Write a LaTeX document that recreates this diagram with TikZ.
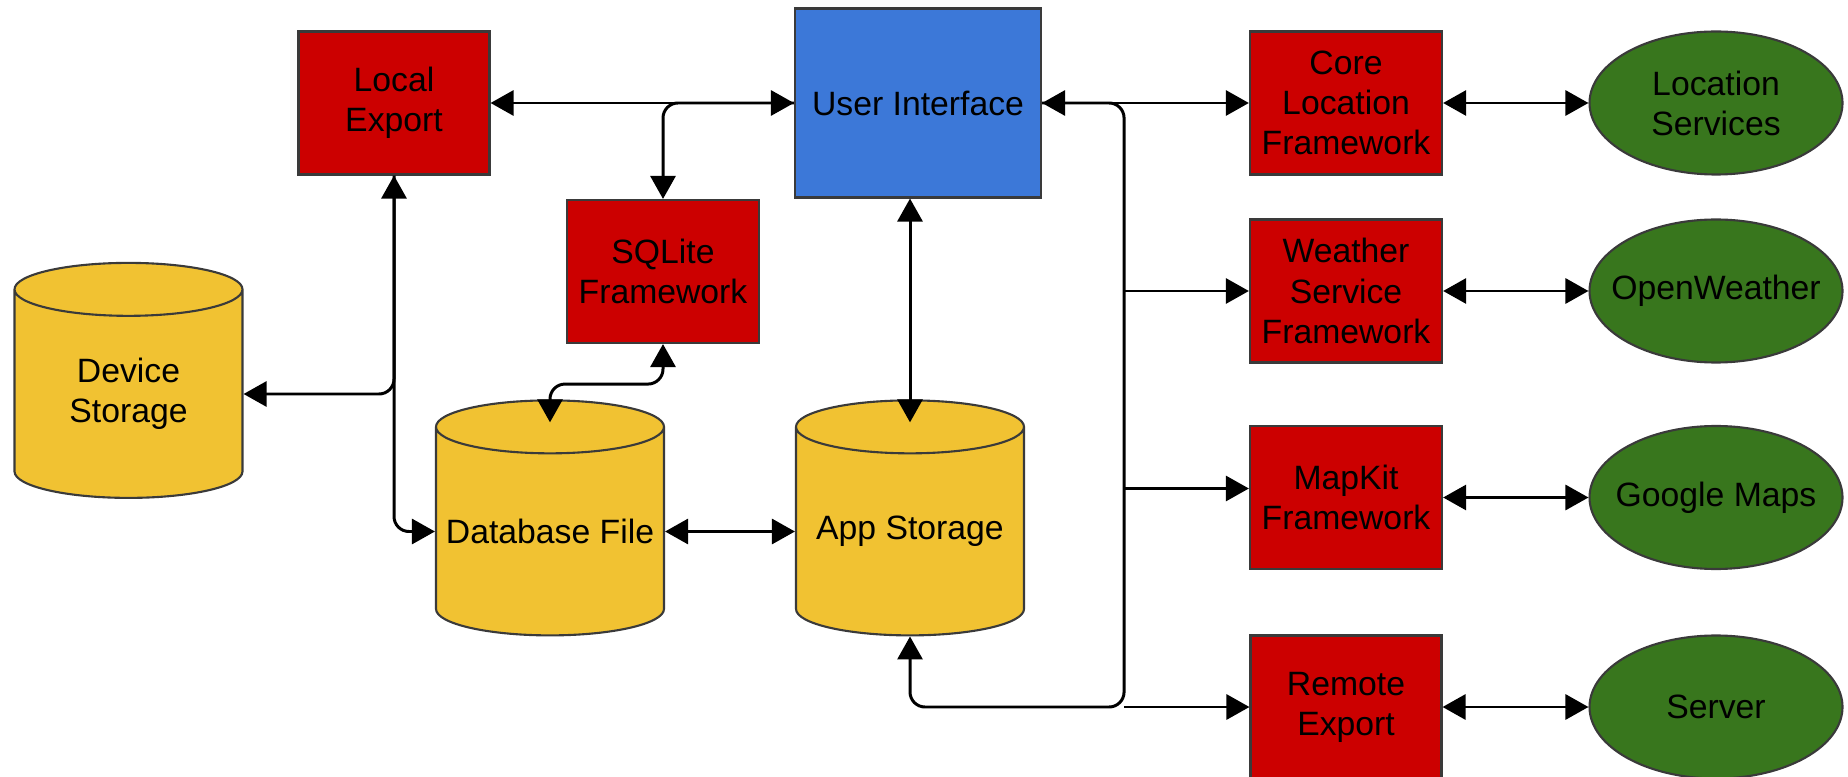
\documentclass[tikz,border=0pt]{standalone}
\usepackage{fontspec}
\setmainfont{Liberation Sans}
\usetikzlibrary{shapes.geometric,arrows.meta,calc,positioning}
\definecolor{fwred}{HTML}{CC0000}
\definecolor{uiblue}{HTML}{3C78D8}
\definecolor{dbyellow}{HTML}{F1C232}
\definecolor{srvgreen}{HTML}{38761D}
\definecolor{edgegray}{HTML}{3A3A3A}
\tikzstyle{framebox} = [rectangle,minimum width=1.91cm,minimum height=1.43cm,align=center,fill=fwred,draw=edgegray,semithick]
\tikzstyle{uibox} = [rectangle,minimum width=2.46cm,minimum height=1.89cm,align=center,fill=uiblue,draw=edgegray,semithick]
\tikzstyle{dbcyl} = [cylinder,shape border rotate=90,aspect=2.26,minimum width=2.28cm,minimum height=2.35cm,fill=dbyellow,draw=edgegray,semithick]
\tikzstyle{extsrv} = [ellipse,minimum width=2.53cm,minimum height=1.43cm,inner sep=0pt,fill=srvgreen,draw=edgegray,semithick]
\tikzstyle{dblabel} = [align=center,yshift=0.06cm]
\tikzstyle{srvlabel} = [align=center]

\begin{document}
\begin{tikzpicture}[->,>={Triangle[length=0.23cm,width=0.25cm]},line width=0.85pt,node distance=3.7cm,font=\fontsize{9.6}{11.4}\selectfont]

\useasboundingbox (0,0) rectangle (18.48,-7.77);

\node (locexp) [framebox] at (3.94,-1.03) {Local\\Export};
\node (ui) [uibox,right of=locexp,xshift=1.54cm] {User Interface};
\node (core) [framebox,right of=ui,xshift=0.58cm] {Core\\Location\\Framework};
\node (locsrv) [extsrv,right of=core,label={[srvlabel,name=locsrvtxt]center:Location\\Services}] {};
\node (weather) [framebox,below of=core,yshift=1.82cm] {Weather\\Service\\Framework};
\node (openw) [extsrv,right of=weather,label={[srvlabel,name=openwtxt]center:OpenWeather}] {};
\node (mapkit) [framebox,below of=weather,yshift=1.635cm] {MapKit\\Framework};
\node (gmaps) [extsrv,right of=mapkit,label={[srvlabel,name=gmapstxt]center:Google Maps}] {};
\node (remote) [framebox,below of=mapkit,yshift=1.605cm] {Remote\\Export};
\node (server) [extsrv,right of=remote,label={[srvlabel,name=servertxt]center:Server}] {};
\node (sqlite) [framebox,right of=locexp,xshift=-1.01cm,yshift=-1.685cm] {SQLite\\Framework};
\node (dbfile) [dbcyl,below of=sqlite,xshift=-1.13cm,yshift=1.04cm,label={[dblabel,name=dbtxt]center:Database File}] {};
\node (appst) [dbcyl,right of=dbfile,xshift=-0.1cm,label={[dblabel,name=apptxt]center:App Storage}] {};
\node (devst) [dbcyl,left of=dbfile,xshift=-0.515cm,yshift=1.375cm,label={[dblabel,name=devtxt]center:Device\\Storage}] {};

\coordinate (bus) at ($(ui.east)+(0.82,0)$);

\draw[<->] (locexp)--(ui);
\draw[rounded corners=0.15cm] (ui.west)-|(sqlite.north);
\draw[<->,rounded corners=0.15cm] (locexp.south)|-(dbtxt-|dbfile.west);
\draw[rounded corners=0.15cm] (locexp.south)|-(devtxt-|devst.east);
\draw[<->,rounded corners=0.15cm] (sqlite.south)--++(0,-0.4)-|($(dbfile.north)+(0,-0.23)$);
\draw[<->] (appst.north|-ui.south)--($(appst.north)+(0,-0.23)$);
\draw[<->] (dbtxt-|dbfile.east)--(dbtxt-|appst.west);
\draw[<->] (ui)--(core);
\draw[rounded corners=0.15cm] (ui.east)-|(bus|-remote.west)-|(appst.south);
\draw (bus|-weather.west)--(weather.west);
\draw ($(bus|-mapkit.west)+(0,0.09)$)--($(mapkit.west)+(0,0.09)$);
\draw (bus|-remote.west)--(remote.west);
\draw[<->] (core)--(locsrv);
\draw[<->] (weather)--(openw);
\draw[<->] (mapkit)--(gmaps);
\draw[<->] (remote)--(server);

\end{tikzpicture}
\end{document}
